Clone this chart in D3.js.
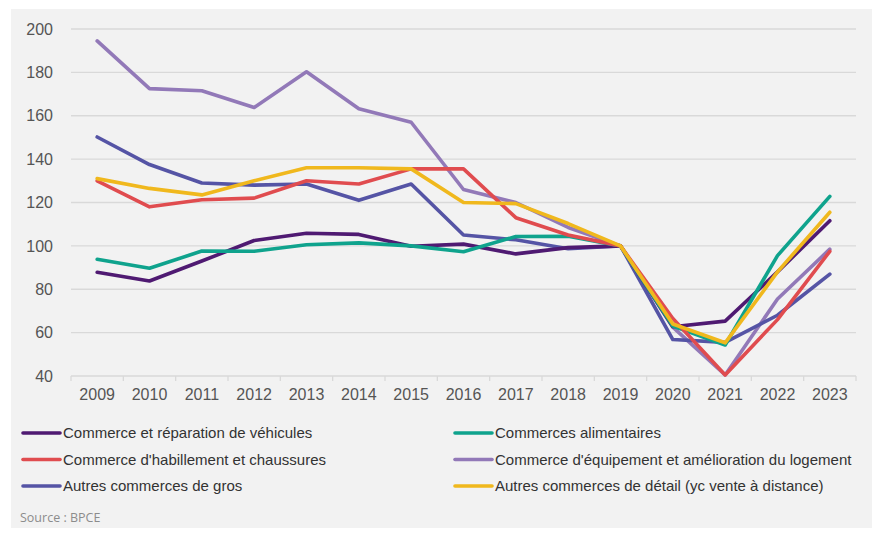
<!DOCTYPE html>
<head>
<meta charset="utf-8">
<script src="https://d3js.org/d3.v7.min.js"></script>
<style>
body { margin: 0; background: #ffffff; font-family: "Liberation Sans", Arial, sans-serif; }
.tick text { font-family: "Liberation Sans", Arial, sans-serif; }
</style>
</head>
<body>
<div id="chart"></div>
<script>
// years on the x axis
var years = ["2009","2010","2011","2012","2013","2014","2015","2016","2017","2018","2019","2020","2021","2022","2023"];
var yTicks = [40, 60, 80, 100, 120, 140, 160, 180, 200];

// series values (base 100 in 2019)
var vehicules   = [87.8, 83.8, 93, 102.5, 105.8, 105.3, 99.8, 100.8, 96.3, 99.2, 100, 62.7, 65.3, 88, 111.6];
var alimentaire = [93.8, 89.7, 97.6, 97.5, 100.5, 101.4, 100, 97.3, 104.3, 104.4, 100, 63, 54.3, 95.5, 122.8];
var habillement = [130, 118, 121.3, 122, 130, 128.5, 135.5, 135.5, 113, 105, 100, 66.5, 40.5, 66, 97.5];
var equipement  = [194.5, 172.5, 171.5, 163.8, 180.3, 163.2, 157, 126, 120, 108.5, 100, 62.5, 40.5, 75.5, 98.5];
var gros        = [150.2, 137.5, 129, 128, 128.5, 121, 128.5, 105, 102.8, 98.7, 100, 56.8, 55.5, 68, 87];
var detail      = [131, 126.5, 123.5, 130, 136, 136, 135.5, 120, 119.5, 110.3, 100, 64, 55.3, 88, 115.5];

var names = ["Commerce et réparation de véhicules", "Commerces alimentaires",
             "Commerce d'habillement et chaussures", "Commerce d'équipement et amélioration du logement",
             "Autres commerces de gros", "Autres commerces de détail (yc vente à distance)"];
var colors = ["#4f1a72", "#0fa38d", "#e04c4f", "#9279b8", "#5554a5", "#f0b81d"];
var values = [vehicules, alimentaire, habillement, equipement, gros, detail];
// drawing order (back to front)
var drawOrder = [3, 4, 0, 1, 2, 5];

var W = 875, H = 534;
var svg = d3.select("#chart").append("svg")
  .attr("width", W).attr("height", H);

// grey panel
svg.append("rect")
  .attr("x", 11).attr("y", 9)
  .attr("width", 861).attr("height", 519)
  .attr("fill", "#f2f2f2");

var x = d3.scaleBand().domain(years).range([71, 856]).padding(0);
var y = d3.scaleLinear().domain([40, 200]).range([376, 29]);

// horizontal gridlines
svg.append("g")
  .selectAll("line")
  .data(yTicks)
  .enter().append("line")
    .attr("x1", 71).attr("x2", 856)
    .attr("y1", function(d){ return y(d); })
    .attr("y2", function(d){ return y(d); })
    .style("stroke", "#d9d9d9")
    .style("stroke-width", 1.3);

// y axis labels
var yAxis = svg.append("g")
  .attr("transform", "translate(62,0)")
  .call(d3.axisLeft(y).tickValues(yTicks).tickSize(0).tickPadding(9));
yAxis.select(".domain").remove();
yAxis.selectAll("text")
  .style("font-size", "16px")
  .style("fill", "#555555");

// x axis with tick marks between categories
var xAxis = svg.append("g")
  .attr("transform", "translate(0," + y(40) + ")")
  .call(d3.axisBottom(x).tickSize(0).tickPadding(13));
xAxis.select(".domain").remove();
xAxis.selectAll("text")
  .style("font-size", "16px")
  .style("fill", "#555555");
var edges = years.map(function(d){ return x(d); }).concat([x.range()[1]]);
svg.append("g")
  .selectAll("line")
  .data(edges)
  .enter().append("line")
    .attr("x1", function(d){ return d; })
    .attr("x2", function(d){ return d; })
    .attr("y1", y(40)).attr("y2", y(40) + 5)
    .style("stroke", "#d9d9d9")
    .style("stroke-width", 1.3);

// series lines
var line = d3.line()
  .x(function(d, i){ return x(years[i]) + x.bandwidth() / 2; })
  .y(function(d){ return y(d); });

drawOrder.forEach(function(k) {
  svg.append("path")
    .datum(values[k])
    .attr("d", line)
    .attr("fill", "none")
    .attr("stroke", colors[k])
    .attr("stroke-width", 3.6)
    .attr("stroke-linejoin", "round")
    .attr("stroke-linecap", "round");
});

// legend, two columns
var legCols = [21, 453];
var legRows = [433, 459.5, 486];
names.forEach(function(n, k) {
  var lx = legCols[k % 2], ly = legRows[Math.floor(k / 2)];
  svg.append("line")
    .attr("x1", lx + 2).attr("x2", lx + 39)
    .attr("y1", ly).attr("y2", ly)
    .attr("stroke", colors[k])
    .attr("stroke-width", 3.6)
    .attr("stroke-linecap", "round");
  svg.append("text")
    .attr("x", lx + 42).attr("y", ly + 5)
    .style("font-size", "15px")
    .style("fill", "#333333")
    .text(n);
});

// source
svg.append("text")
  .attr("x", 20).attr("y", 522)
  .style("font-family", "'Open Sans', sans-serif")
  .style("font-size", "12.5px")
  .style("fill", "#8c8c8c")
  .text("Source : BPCE");
</script>
</body>
